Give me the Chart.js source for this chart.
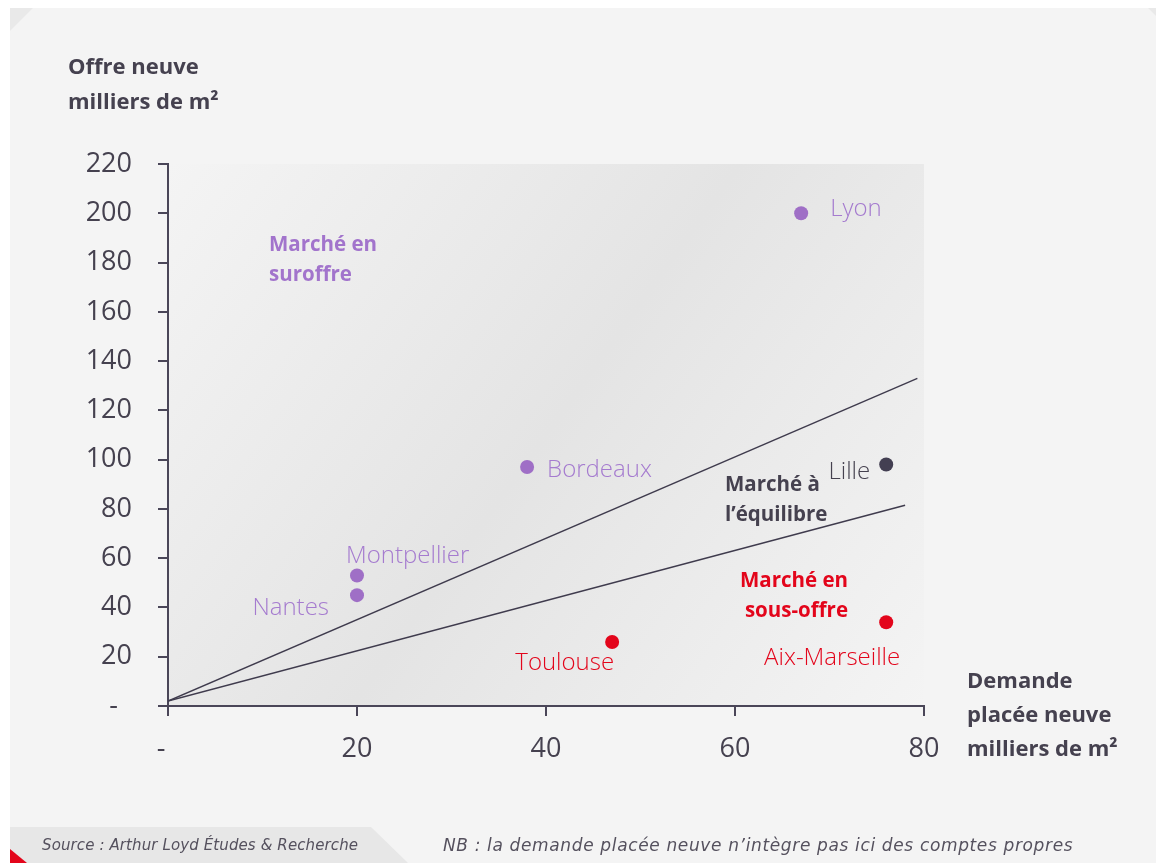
<!DOCTYPE html>
<html lang="fr">
<head>
<meta charset="utf-8">
<title>Offre neuve et demande placée neuve</title>
<script src="https://cdn.jsdelivr.net/npm/chart.js@4.4.1/dist/chart.umd.min.js"></script>
<style>
  html, body { margin: 0; padding: 0; background: #ffffff; }
  #page { position: relative; width: 1156px; height: 863px; overflow: hidden; font-family: "Open Sans", "DejaVu Sans", sans-serif; }
  #chart { position: absolute; left: 0; top: 0; }
  .txt { position: absolute; white-space: nowrap; }
  .axis-title { font-weight: 700; font-size: 22px; color: #45414f; line-height: 35px; }
  .zone { font-weight: 700; font-size: 20.5px; line-height: 30px; }
  .foot { font-family: "DejaVu Sans", sans-serif; font-style: italic; color: #55515e; line-height: 24px; }
</style>
</head>
<body>
<div id="page">
  <canvas id="chart" width="1156" height="863"></canvas>

  <div class="txt axis-title" style="left:68px; top:48px;">Offre neuve<br>milliers de m²</div>
  <div class="txt axis-title" style="left:967px; top:662px; line-height:34px;">Demande<br>placée neuve<br>milliers de m²</div>

  <div class="txt zone" style="left:269px; top:228px; color:#a274cc;">Marché en<br>suroffre</div>
  <div class="txt zone" style="left:725px; top:468px; color:#45414f;">Marché à<br>l’équilibre</div>
  <div class="txt zone" style="right:308px; top:564px; color:#e3051b; text-align:right;">Marché en<br>sous-offre</div>

  <div class="txt foot" id="src" style="left:42px; top:833px; font-size:15px;">Source : Arthur Loyd Études &amp; Recherche</div>
  <div class="txt foot" id="nb" style="left:443px; top:833px; font-size:17px;">NB : la demande placée neuve n’intègre pas ici des comptes propres</div>
</div>

<script>
// Villes : demande placée neuve (x) et offre neuve (y), en milliers de m²
const cities  = ['Lyon', 'Bordeaux', 'Lille', 'Montpellier', 'Nantes', 'Toulouse', 'Aix-Marseille'];
const demande = [67, 38, 76, 20, 20, 47, 76];
const offre   = [200, 97, 98, 53, 45, 26, 34];
const marche  = ['suroffre', 'suroffre', 'equilibre', 'suroffre', 'suroffre', 'sous-offre', 'sous-offre'];

// Bornes de la zone d'équilibre
const borneHauteX = [0, 79.3];
const borneHauteY = [2, 133];
const borneBasseX = [0, 78];
const borneBasseY = [2, 81.5];

// Graduations
const xTicks = [0, 20, 40, 60, 80];
const yTicks = [0, 20, 40, 60, 80, 100, 120, 140, 160, 180, 200, 220];

const couleurs = { 'suroffre': '#9f6fc6', 'equilibre': '#433f52', 'sous-offre': '#e3051b' };
const couleursTexte = { 'suroffre': '#a57bcf', 'equilibre': '#45414f', 'sous-offre': '#e3051b' };

// Placement des étiquettes de villes autour de leur point
const placement = {
  'Lyon':          { dx: 29,  dy: -4, align: 'left'  },
  'Bordeaux':      { dx: 20,  dy: 3,  align: 'left'  },
  'Lille':         { dx: -16, dy: 8,  align: 'right' },
  'Montpellier':   { dx: -11, dy: -19, align: 'left' },
  'Nantes':        { dx: -28, dy: 13, align: 'right' },
  'Toulouse':      { dx: 2,   dy: 21, align: 'right' },
  'Aix-Marseille': { dx: 14,  dy: 36, align: 'right' }
};

const AXIS = '#4a4658';
const tickFont = { family: '"Open Sans", sans-serif', size: 27 };

// Étire les lignes de pied de page à leur largeur voulue
function fitWidth(id, target) {
  const el = document.getElementById(id);
  const n = el.textContent.length;
  const w = el.getBoundingClientRect().width;
  el.style.letterSpacing = ((target - w) / n).toFixed(2) + 'px';
}
fitWidth('src', 316);
fitWidth('nb', 630);

const pagePlugin = {
  id: 'page',
  beforeDraw(chart) {
    const { ctx, chartArea: a } = chart;
    const W = chart.width, H = chart.height;
    ctx.save();
    ctx.fillStyle = '#ffffff';
    ctx.fillRect(0, 0, W, H);
    ctx.fillStyle = '#f4f4f4';
    ctx.fillRect(10, 8, W - 10, H - 8);
    // coins décoratifs
    ctx.fillStyle = '#e9e9e9';
    ctx.beginPath(); ctx.moveTo(10, 8); ctx.lineTo(33, 8); ctx.lineTo(10, 31); ctx.closePath(); ctx.fill();
    ctx.beginPath(); ctx.moveTo(W - 8, 8); ctx.lineTo(W, 8); ctx.lineTo(W, 16); ctx.closePath(); ctx.fill();
    // bandeau de source
    ctx.fillStyle = '#e7e7e7';
    ctx.beginPath(); ctx.moveTo(10, 827); ctx.lineTo(371, 827); ctx.lineTo(408, H); ctx.lineTo(10, H); ctx.closePath(); ctx.fill();
    ctx.fillStyle = '#e3051b';
    ctx.beginPath(); ctx.moveTo(10, 849); ctx.lineTo(27, H); ctx.lineTo(10, H); ctx.closePath(); ctx.fill();
    // fond dégradé de la zone de tracé
    const g = ctx.createLinearGradient(a.left, a.top, a.right, a.bottom);
    g.addColorStop(0, '#f4f4f4');
    g.addColorStop(0.5, '#e4e4e4');
    g.addColorStop(1, '#f4f4f4');
    ctx.fillStyle = g;
    ctx.fillRect(a.left, a.top, a.right - a.left, a.bottom - a.top);
    ctx.restore();
  }
};

const labelPlugin = {
  id: 'cityLabels',
  afterDatasetsDraw(chart) {
    const { ctx } = chart;
    const meta = chart.getDatasetMeta(0);
    ctx.save();
    ctx.font = '300 24px "Open Sans", sans-serif';
    ctx.textBaseline = 'middle';
    meta.data.forEach((pt, i) => {
      const p = placement[cities[i]];
      ctx.fillStyle = couleursTexte[marche[i]];
      ctx.textAlign = p.align;
      ctx.fillText(cities[i], pt.x + p.dx, pt.y + p.dy);
    });
    ctx.restore();
  }
};

const toXY = (xs, ys) => xs.map((x, i) => ({ x: x, y: ys[i] }));

new Chart(document.getElementById('chart'), {
  type: 'scatter',
  data: {
    datasets: [
      {
        label: 'Villes',
        data: toXY(demande, offre),
        pointRadius: 7,
        pointHoverRadius: 7,
        pointBorderWidth: 0,
        pointBackgroundColor: marche.map(m => couleurs[m]),
        order: 0
      },
      {
        label: 'Borne haute',
        data: toXY(borneHauteX, borneHauteY),
        showLine: true,
        borderColor: '#3f3b4d',
        borderWidth: 1.4,
        pointRadius: 0,
        order: 1
      },
      {
        label: 'Borne basse',
        data: toXY(borneBasseX, borneBasseY),
        showLine: true,
        borderColor: '#3f3b4d',
        borderWidth: 1.4,
        pointRadius: 0,
        order: 1
      }
    ]
  },
  options: {
    responsive: false,
    devicePixelRatio: 1,
    animation: false,
    events: [],
    layout: { padding: { left: 0, top: 164, right: 232, bottom: 0 } },
    plugins: { legend: { display: false }, tooltip: { enabled: false } },
    scales: {
      x: {
        type: 'linear',
        min: 0, max: 80,
        afterBuildTicks(s) { s.ticks = xTicks.map(v => ({ value: v })); },
        afterFit(s) { s.height = 157; },
        ticks: {
          font: tickFont, color: '#45414f', padding: 17,
          maxRotation: 0, autoSkip: false,
          callback: v => v === 0 ? '-  ' : String(v)
        },
        grid: { drawOnChartArea: false, drawTicks: true, tickLength: 10, color: AXIS, lineWidth: 2 },
        border: { display: true, color: AXIS, width: 2 }
      },
      y: {
        type: 'linear',
        min: 0, max: 220,
        afterBuildTicks(s) { s.ticks = yTicks.map(v => ({ value: v })); },
        afterFit(s) { s.width = 168; },
        ticks: {
          font: tickFont, color: '#45414f', padding: 26,
          autoSkip: false,
          callback: v => v === 0 ? '-  ' : String(v)
        },
        grid: { drawOnChartArea: false, drawTicks: true, tickLength: 10, color: AXIS, lineWidth: 2 },
        border: { display: true, color: AXIS, width: 2 }
      }
    }
  },
  plugins: [pagePlugin, labelPlugin]
});
</script>
</body>
</html>
